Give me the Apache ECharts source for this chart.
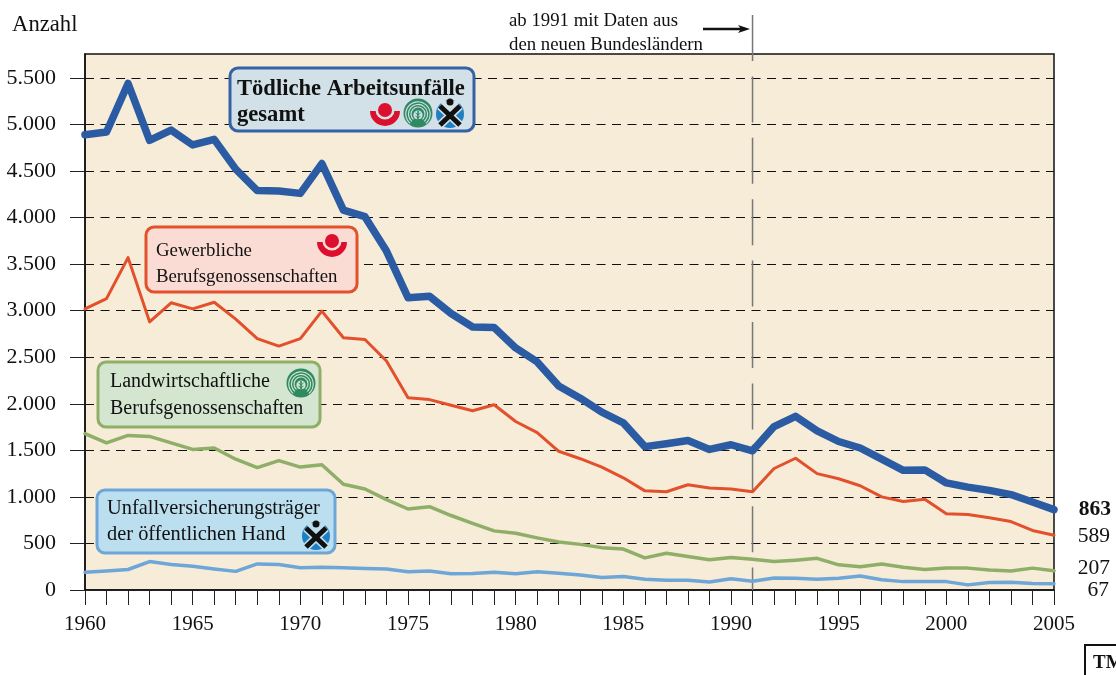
<!DOCTYPE html>
<html><head><meta charset="utf-8">
<style>html,body{margin:0;padding:0;background:#fff}#c{width:1116px;height:675px}</style>
<script src="https://cdn.jsdelivr.net/npm/echarts@6/dist/echarts.min.js"></script>
</head><body><div id="c"></div>
<script>
const years = [];
for (let y = 1960; y <= 2005; y++) years.push(String(y));
const yTicks = [0,500,1000,1500,2000,2500,3000,3500,4000,4500,5000,5500];
const gesamt = [4890,4920,5440,4830,4940,4780,4840,4520,4290,4285,4260,4580,4080,4010,3640,3140,3155,2970,2825,2820,2600,2450,2190,2060,1910,1795,1540,1570,1605,1510,1560,1495,1755,1865,1710,1595,1525,1405,1285,1290,1150,1105,1070,1025,945,863];
const gewerblich = [3020,3130,3570,2880,3085,3020,3090,2910,2700,2620,2700,2995,2710,2690,2460,2065,2045,1985,1925,1990,1810,1690,1490,1410,1320,1205,1065,1055,1130,1095,1085,1055,1305,1415,1250,1195,1120,1000,950,975,820,810,775,735,640,589];
const landwirtschaft = [1680,1580,1660,1650,1580,1510,1525,1405,1315,1390,1320,1345,1135,1085,970,870,895,800,715,635,610,560,515,490,455,440,345,395,360,325,350,330,305,320,340,270,250,280,245,220,235,235,215,205,235,207];
const unfall = [190,205,220,305,275,255,225,200,280,275,240,245,240,230,225,195,205,175,178,190,175,195,180,160,135,145,115,105,105,85,120,95,130,125,115,125,150,110,90,90,90,55,80,82,70,67];

const SERIF = '"Liberation Serif","Times New Roman",serif';
const BLUE='#2b5ca3', RED='#e2502c', GREEN='#8fae68', LIGHT='#6ea6d8';
const fmt = v => v===0 ? '0' : String(v).replace(/(\d)(\d{3})$/,'$1.$2');
const chart = echarts.init(document.getElementById('c'),null,{renderer:'canvas'});

function ser(name,data,color,width,lblOffset,bold){
  return {name,type:'line',data,showSymbol:false,symbol:'none',clip:false,smooth:false,animation:false,z:3,
    lineStyle:{color,width,cap:'round',join:'round'},
    endLabel:{show:true,formatter:p=>String(p.value),fontFamily:SERIF,fontSize:21.5,color:'#111',
      fontWeight:bold?'bold':'normal',align:'right',offset:lblOffset,distance:0}};
}
function box(x,y,w,h,fill,stroke,lines,size,bold,tx){
  const out=[{type:'rect',z:20,shape:{x,y,width:w,height:h,r:8},style:{fill,stroke,lineWidth:3}}];
  lines.forEach(l=>out.push({type:'text',z:21,x:tx,y:l[1],style:{text:l[0],fill:'#111',font:(bold?'bold ':'')+size+'px '+SERIF,textVerticalAlign:'middle',textBaseline:'middle'}}));
  return out;
}
function redLogo(cx,cy,bg){return [
  {type:'sector',z:22,shape:{cx,cy,r:15,r0:0,startAngle:0,endAngle:Math.PI},style:{fill:'#dc0f2e'}},
  {type:'circle',z:22,shape:{cx,cy:cy-1,r:9.5},style:{fill:bg}},
  {type:'circle',z:23,shape:{cx,cy:cy-1,r:7},style:{fill:'#dc0f2e'}}];}
function greenLogo(cx,cy,bg){
  const c='#2f8a62',o=[{type:'circle',z:22,shape:{cx,cy,r:14.5},style:{fill:c}}];
  [12.2,9.6,7].forEach(r=>{
    o.push({type:'arc',z:23,shape:{cx,cy:cy+1,r,startAngle:Math.PI*0.72,endAngle:Math.PI*2.28},style:{stroke:bg,fill:null,lineWidth:1.1}});
  });
  o.push({type:'circle',z:23,shape:{cx,cy:cy+2,r:4.6},style:{fill:bg}});
  o.push({type:'line',z:24,shape:{x1:cx,y1:cy-2,x2:cx,y2:cy+13},style:{stroke:c,lineWidth:1.6}});
  [1,4,7].forEach(d=>{
    o.push({type:'line',z:24,shape:{x1:cx-2.5,y1:cy+d-1,x2:cx,y2:cy+d+1},style:{stroke:c,lineWidth:1}});
    o.push({type:'line',z:24,shape:{x1:cx+2.5,y1:cy+d-1,x2:cx,y2:cy+d+1},style:{stroke:c,lineWidth:1}});
  });
  return o;
}
function xLogo(cx,cy,bg){
  const o=[{type:'circle',z:22,shape:{cx,cy,r:14},style:{fill:'#1f7fc0'}},
    {type:'polygon',z:22,shape:{points:[[cx-11,cy-13],[cx+11,cy-13],[cx,cy]]},style:{fill:bg}}];
  [[-10,-8,10,11],[10,-8,-10,11]].forEach(s=>{
    o.push({type:'line',z:23,shape:{x1:cx+s[0],y1:cy+s[1],x2:cx+s[2],y2:cy+s[3]},style:{stroke:bg,lineWidth:8}});
  });
  [[-10,-8,10,11],[10,-8,-10,11]].forEach(s=>{
    o.push({type:'line',z:24,shape:{x1:cx+s[0],y1:cy+s[1],x2:cx+s[2],y2:cy+s[3]},style:{stroke:'#111',lineWidth:5}});
  });
  o.push({type:'circle',z:24,shape:{cx,cy:cy-12,r:3.5},style:{fill:'#111'}});
  return o;
}
const option = {
  animation:false,backgroundColor:'#fff',
  grid:{left:85,right:62,top:54,bottom:85,show:true,backgroundColor:'#f6ecd8',borderColor:'#111',borderWidth:1.5},
  xAxis:{type:'category',data:years,boundaryGap:false,
    axisLine:{lineStyle:{color:'#111',width:1.5}},
    axisTick:{show:true,interval:0,length:15,lineStyle:{color:'#222',width:1}},
    axisLabel:{interval:4,margin:24,fontFamily:SERIF,fontSize:21,color:'#111',hideOverlap:false,showMinLabel:true,showMaxLabel:true},
    splitLine:{show:false}},
  yAxis:{type:'value',min:0,max:5757,
    axisLine:{show:true,lineStyle:{color:'#111',width:1.5}},
    axisTick:{show:true,length:15,customValues:yTicks,lineStyle:{color:'#222',width:1}},
    axisLabel:{customValues:yTicks,formatter:fmt,margin:29,padding:[4,0,0,0],fontFamily:SERIF,fontSize:22,color:'#111'},
    splitLine:{show:true,showMinLine:false,showMaxLine:true,lineStyle:{color:'#111',width:1,type:[9,6.5]}}},
  series:[
    ser('Unfallversicherungsträger',unfall,LIGHT,3.5,[55,7],false),
    ser('Landwirtschaftliche',landwirtschaft,GREEN,3.5,[56,-2],false),
    ser('Gewerbliche',gewerblich,RED,3,[56,1],false),
    ser('Gesamt',gesamt,BLUE,7.5,[57,0],true)
  ]
};
chart.setOption(option);
const vx = chart.convertToPixel({xAxisIndex:0},'1991');
const BG1='#d2e0e8',BG2='#fadcd4',BG3='#d4e6d0',BG4='#bcdff0';
const elems = [
  {type:'line',z:1,shape:{x1:vx,y1:15,x2:vx,y2:590},style:{stroke:'#777',lineWidth:1.5,lineDash:[46,15.4]}},
  {type:'text',z:5,x:12,y:25,style:{text:'Anzahl',fill:'#111',font:'22.7px '+SERIF,textBaseline:'middle',textVerticalAlign:'middle'}},
  {type:'text',z:5,x:509,y:21,style:{text:'ab 1991 mit Daten aus',fill:'#111',font:'18.8px '+SERIF,textBaseline:'middle',textVerticalAlign:'middle'}},
  {type:'text',z:5,x:509,y:45,style:{text:'den neuen Bundesländern',fill:'#111',font:'18.8px '+SERIF,textBaseline:'middle',textVerticalAlign:'middle'}},
  {type:'line',z:5,shape:{x1:703,y1:29,x2:745,y2:29},style:{stroke:'#111',lineWidth:2.5}},
  {type:'polygon',z:5,shape:{points:[[750,29],[738,25],[741,29],[738,33]]},style:{fill:'#111'}},
  {type:'rect',z:5,shape:{x:1085,y:645,width:60,height:50},style:{fill:'#fff',stroke:'#111',lineWidth:2}},
  {type:'text',z:6,x:1093,y:663,style:{text:'TM',fill:'#111',font:'bold 19px '+SERIF,textBaseline:'middle',textVerticalAlign:'middle'}},
  ...box(230,68,244,63,BG1,'#3561a5',[['Tödliche Arbeitsunfälle',89],['gesamt',115]],22.6,true,237),
  ...redLogo(385,111,BG1),...greenLogo(418,113,BG1),...xLogo(450,114,BG1),
  ...box(146,227,211,65,BG2,RED,[['Gewerbliche',251],['Berufsgenossenschaften',277]],18.8,false,156),
  ...redLogo(332,242,BG2),
  ...box(98,362,222,65,BG3,GREEN,[['Landwirtschaftliche',382],['Berufsgenossenschaften',409]],20,false,110),
  ...greenLogo(301,383,BG3),
  ...box(97,490,238,63,BG4,LIGHT,[['Unfallversicherungsträger',509],['der öffentlichen Hand',535]],20.4,false,107),
  ...xLogo(316,536,BG4)
];
chart.setOption({graphic:{elements:elems}});
</script></body></html>
